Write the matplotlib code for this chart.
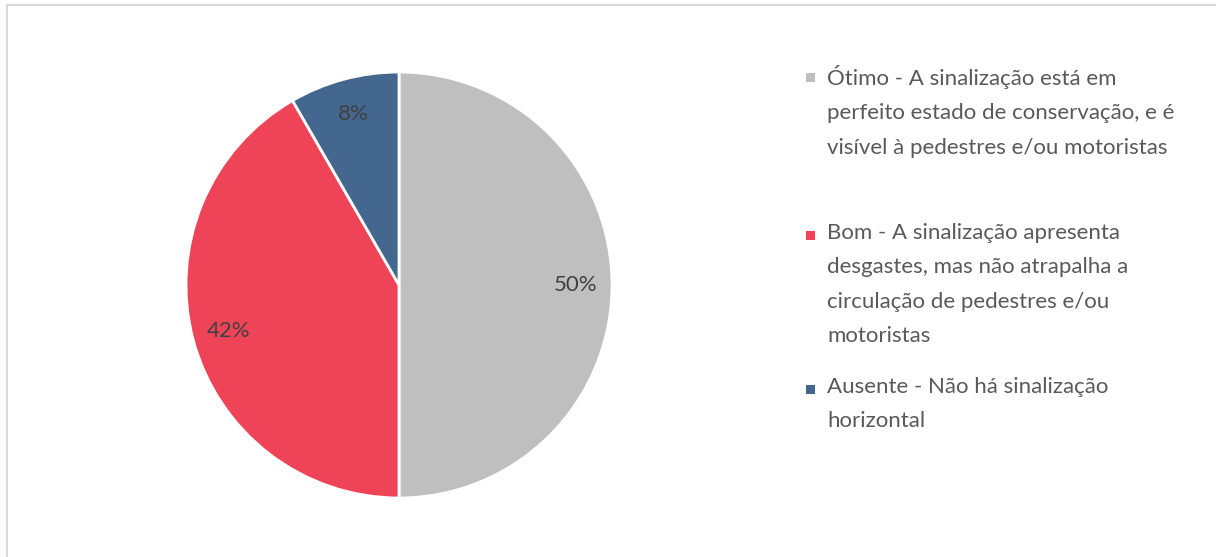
import matplotlib
matplotlib.use('Agg')
import matplotlib.pyplot as plt
from matplotlib.patches import Rectangle

# --- data
categories = [
    "Ótimo - A sinalização está em\nperfeito estado de conservação, e é\nvisível à pedestres e/ou motoristas",
    "Bom - A sinalização apresenta\ndesgastes, mas não atrapalha a\ncirculação de pedestres e/ou\nmotoristas",
    "Ausente - Não há sinalização\nhorizontal",
]
counts = [6, 5, 1]
colors = ['#BFBFBF', '#EF4457', '#44678F']

W, H = 1216, 557
plt.rcParams['font.family'] = ['Lato', 'DejaVu Sans']

fig = plt.figure(figsize=(W/100, H/100), dpi=100)

# outer frame
fig.patches.append(Rectangle((7/W, -0.1), 1.2, (H-5)/H + 0.1, transform=fig.transFigure,
                             fill=False, edgecolor='#D9D9D9', linewidth=1.5))

cx, cy, r = 399, 285, 213
ax = fig.add_axes([(cx-r)/W, (H-cy-r)/H, 2*r/W, 2*r/H])
wedges, texts, autotexts = ax.pie(counts, colors=colors, startangle=90, counterclock=False,
                                  autopct='%.0f%%', pctdistance=0.83,
                                  wedgeprops=dict(edgecolor='white', linewidth=2),
                                  textprops=dict(color='#404040', fontsize=16))
ax.set_xlim(-1.0, 1.0)
ax.set_ylim(-1.0, 1.0)
ax.set_aspect('equal')

# legend, entries spaced evenly like the original
tops = [77, 235, 389]
for lab, col, y in zip(categories, colors, tops):
    fig.patches.append(Rectangle((806/W, (H-y-4.5)/H), 9/W, 9/H, transform=fig.transFigure,
                                 facecolor=col, edgecolor='none'))
    fig.text(827/W, (H-y+12)/H, lab, ha='left', va='top', fontsize=16,
             color='#595959', linespacing=1.9)

fig.savefig('out.png', dpi=100)
